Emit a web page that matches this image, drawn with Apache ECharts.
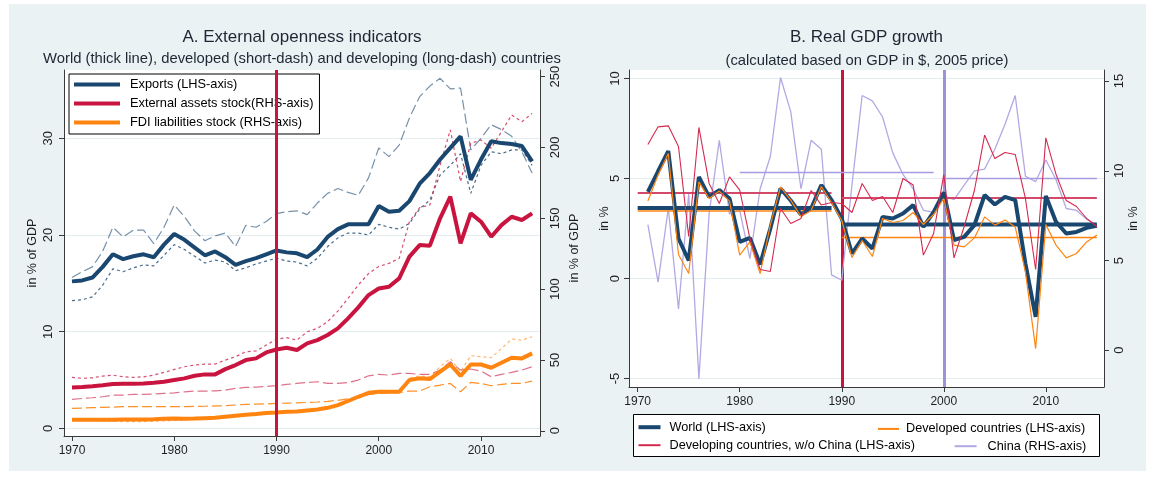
<!DOCTYPE html>
<html>
<head>
<meta charset="utf-8">
<title>External openness and real GDP growth</title>
<script src="https://cdn.jsdelivr.net/npm/echarts@6/dist/echarts.min.js"></script>
<style>
  html, body { margin: 0; padding: 0; background: #fff; }
  #chart { width: 1153px; height: 480px; }
</style>
</head>
<body>
<div id="chart"></div>
<script>
// ---- panel A: openness indicators, 1970-2015 (exports LHS, stocks RHS) ----
const yearsA = [1970, 1971, 1972, 1973, 1974, 1975, 1976, 1977, 1978, 1979,
                1980, 1981, 1982, 1983, 1984, 1985, 1986, 1987, 1988, 1989,
                1990, 1991, 1992, 1993, 1994, 1995, 1996, 1997, 1998, 1999,
                2000, 2001, 2002, 2003, 2004, 2005, 2006, 2007, 2008, 2009,
                2010, 2011, 2012, 2013, 2014, 2015];

const exportsWorld = [15.2, 15.3, 15.6, 16.7, 18.0, 17.5, 17.8, 18.0, 17.7, 19.0,
                      20.1, 19.5, 18.7, 17.9, 18.3, 17.7, 16.9, 17.3, 17.6, 18.0,
                      18.4, 18.2, 18.1, 17.7, 18.5, 19.8, 20.6, 21.1, 21.1, 21.1,
                      23.0, 22.4, 22.5, 23.5, 25.3, 26.4, 27.8, 29.0, 30.2, 25.7,
                      27.8, 29.7, 29.5, 29.4, 29.2, 27.6];
const exportsDeveloped = [13.2, 13.3, 13.6, 14.8, 16.5, 16.2, 16.6, 16.9, 16.8, 17.9,
                          19.0, 18.5, 17.8, 17.1, 17.4, 17.2, 16.3, 16.6, 17.0, 17.3,
                          17.6, 17.3, 17.2, 16.8, 17.6, 18.8, 19.7, 20.2, 20.2, 20.0,
                          21.1, 20.8, 20.6, 21.2, 22.7, 23.6, 26.2, 27.2, 28.4, 24.3,
                          27.2, 28.6, 28.4, 28.8, 28.8, 27.2];
const exportsDeveloping = [15.6, 16.2, 16.7, 18.3, 20.8, 19.8, 20.5, 20.5, 19.1, 20.8,
                           23.1, 21.9, 20.4, 19.4, 19.9, 20.2, 18.8, 21.0, 20.8, 21.4,
                           22.2, 22.4, 22.5, 22.1, 23.3, 24.3, 24.8, 24.4, 24.1, 25.9,
                           29.0, 28.1, 29.3, 32.1, 34.3, 35.4, 36.2, 35.1, 35.2, 28.8,
                           30.0, 31.4, 30.9, 30.2, 28.6, 26.4];

const assetsWorld = [30.6, 30.9, 31.5, 32.2, 33.0, 33.2, 33.2, 33.3, 33.9, 34.6,
                     35.8, 37.0, 38.8, 39.8, 39.8, 43.5, 46.4, 49.9, 51.1, 55.3,
                     57.4, 58.6, 57.0, 61.7, 64.0, 67.6, 72.3, 79.3, 87.1, 95.8,
                     100.4, 101.7, 107.6, 122.9, 131.1, 130.7, 150.0, 165.3, 132.3, 153.5,
                     147.6, 137.0, 145.2, 151.1, 148.8, 153.5];
const assetsDeveloped = [37.7, 37.0, 37.4, 38.6, 39.3, 38.1, 37.7, 38.1, 39.3, 41.2,
                         43.3, 45.2, 46.4, 47.1, 47.1, 49.9, 52.3, 55.8, 56.3, 60.5,
                         64.7, 65.7, 64.0, 69.9, 72.3, 77.0, 84.5, 93.5, 102.9, 111.0,
                         116.0, 118.2, 121.7, 147.6, 157.5, 159.4, 187.6, 212.4, 175.9, 202.9,
                         205.3, 199.4, 211.2, 222.9, 218.2, 224.1];
const assetsDeveloping = [22.1, 22.8, 23.3, 24.0, 25.2, 25.2, 25.7, 25.7, 25.9, 26.4,
                          26.8, 27.5, 28.0, 28.0, 28.2, 28.7, 29.9, 30.6, 30.8, 31.3,
                          31.8, 32.7, 33.4, 34.1, 34.6, 33.4, 33.4, 34.1, 35.8, 38.8,
                          39.8, 39.3, 40.5, 40.5, 39.8, 39.8, 42.8, 48.7, 42.8, 43.6,
                          42.1, 38.1, 39.8, 41.2, 42.8, 45.2];

const fdiWorld = [7.8, 7.8, 7.8, 7.8, 7.8, 7.9, 7.9, 8.0, 8.1, 8.4,
                  8.7, 8.5, 8.6, 8.9, 9.2, 9.9, 10.6, 11.3, 11.8, 12.5,
                  12.9, 13.4, 13.6, 14.3, 15.0, 16.2, 18.1, 21.0, 24.0, 26.8,
                  27.5, 27.5, 27.5, 35.8, 37.0, 36.5, 41.7, 46.8, 38.8, 46.8,
                  46.8, 44.5, 48.0, 51.6, 51.1, 54.6];
const fdiDeveloped = [7.8, 7.5, 7.2, 7.0, 6.8, 6.5, 6.4, 6.5, 6.7, 7.0,
                      7.3, 7.6, 8.0, 8.4, 8.9, 9.4, 10.2, 11.0, 11.6, 12.3,
                      12.8, 13.3, 13.5, 14.2, 15.0, 16.3, 18.3, 21.3, 24.5, 27.5,
                      28.2, 28.0, 28.2, 37.0, 38.8, 38.1, 45.2, 51.1, 41.7, 53.0,
                      52.3, 51.6, 58.1, 64.7, 64.0, 66.4];
const fdiDeveloping = [15.8, 16.0, 16.3, 16.5, 16.7, 17.0, 17.0, 17.0, 17.0, 17.0,
                       17.0, 17.0, 17.2, 17.3, 17.5, 17.7, 18.2, 18.6, 18.8, 19.0,
                       19.3, 19.5, 19.7, 20.0, 20.3, 20.8, 21.5, 22.5, 24.0, 25.5,
                       26.5, 26.8, 27.0, 28.0, 28.0, 31.1, 32.2, 33.4, 27.5, 34.1,
                       33.4, 31.8, 32.7, 33.4, 33.4, 35.1];

// ---- panel B: real GDP growth, 1971-2015 (China on RHS) ----
const yearsB = [1971, 1972, 1973, 1974, 1975, 1976, 1977, 1978, 1979,
                1980, 1981, 1982, 1983, 1984, 1985, 1986, 1987, 1988, 1989,
                1990, 1991, 1992, 1993, 1994, 1995, 1996, 1997, 1998, 1999,
                2000, 2001, 2002, 2003, 2004, 2005, 2006, 2007, 2008, 2009,
                2010, 2011, 2012, 2013, 2014, 2015];

const growthWorld = [4.33, 5.36, 6.37, 2.0, 0.9, 5.08, 4.08, 4.42, 4.0,
                     1.83, 2.03, 0.7, 2.5, 4.5, 3.9, 3.2, 3.5, 4.67, 3.92,
                     3.0, 1.25, 2.0, 1.5, 3.08, 3.0, 3.25, 3.67, 2.58, 3.32,
                     4.3, 1.92, 2.08, 2.67, 4.17, 3.7, 4.08, 3.92, 0.75, -1.92,
                     4.13, 2.83, 2.25, 2.33, 2.53, 2.63];
const growthDeveloped = [3.87, 5.17, 6.25, 1.2, 0.25, 4.83, 4.0, 4.37, 3.87,
                         1.17, 1.83, 0.25, 2.67, 4.58, 3.92, 3.1, 3.4, 4.6, 3.8,
                         2.9, 1.05, 1.9, 1.1, 3.0, 2.8, 2.9, 3.3, 2.7, 3.2,
                         4.0, 1.67, 1.58, 2.03, 3.08, 2.67, 2.92, 2.58, 0.33, -3.5,
                         2.7, 1.67, 1.03, 1.25, 1.83, 2.17];
const growthDeveloping = [6.7, 7.58, 7.63, 6.6, 2.1, 7.55, 4.75, 3.75, 5.08,
                          4.42, 2.0, 0.45, 0.35, 3.5, 2.75, 3.0, 4.4, 3.67, 3.8,
                          3.75, 3.3, 4.75, 3.9, 4.1, 3.3, 5.0, 4.67, 1.17, 2.25,
                          5.2, 1.03, 2.6, 4.4, 7.17, 6.0, 6.3, 6.2, 4.0, 0.45,
                          7.03, 5.2, 3.9, 3.6, 3.0, 2.6];
const growthChina = [7.0, 3.8, 7.9, 2.3, 8.7, -1.6, 7.6, 11.7, 7.6,
                     7.8, 5.1, 9.0, 10.8, 15.2, 13.3, 9.0, 11.7, 11.2, 4.2,
                     3.9, 9.2, 14.2, 13.9, 13.0, 11.0, 9.8, 9.0, 7.8, 7.7,
                     8.6, 8.4, 9.2, 10.0, 10.1, 11.2, 12.6, 14.2, 9.7, 9.4,
                     10.6, 9.5, 7.9, 7.8, 7.3, 7.0];

// period averages (start year, end year) and their values
const periods = [[1970, 1989], [1990, 2015]];
const avgWorld = [3.53, 2.7];
const avgDeveloped = [3.37, 2.05];
const avgDeveloping = [4.28, 4.03];
const periodsChina = [[1980, 1999], [2000, 2015]];
const avgChina = [9.9, 9.57];

const breakYears = [1990];
const chinaBreakYears = [2000];

// tick labels
const decadeTicks = [1970, 1980, 1990, 2000, 2010];
const ticksA_left = [0, 10, 20, 30];
const ticksA_right = [0, 50, 100, 150, 200, 250];
const ticksB_left = [-5, 0, 5, 10];
const ticksB_right = [0, 5, 10, 15];

// ---- styling ----
const NAVY = '#1a476f', CRIMSON = '#c8143f', ORANGE = '#ff8410';
const RED_THIN = '#d42a50', LAVENDER = '#b3a8e4';
const SHORT = [3, 3], LONG = [10, 4];
const AXIS = '#3a3a3a', TEXT = '#1f1f1f';

const pairs = (xs, ys) => xs.map((x, i) => [x, ys[i]]);

function line(name, xi, yi, data, color, width, dash, opacity, z) {
  return {
    name: name, type: 'line', xAxisIndex: xi, yAxisIndex: yi,
    data: data, symbol: 'none', showSymbol: false, color: color,
    lineStyle: { color: color, width: width, type: dash || 'solid', opacity: opacity == null ? 1 : opacity },
    z: z || 2, silent: true, animation: false
  };
}

// one flat segment per period
function avgSeries(label, yi, periodList, values, color, width, z) {
  return periodList.map((p, i) =>
    line(label + ' ' + i, 1, yi, [[p[0], values[i]], [p[1], values[i]]], color, width, 'solid', 1, z));
}

function vline(xi, yi, yearsList, color, width, z) {
  return {
    name: 'break', type: 'line', xAxisIndex: xi, yAxisIndex: yi, data: [],
    silent: true, animation: false,
    markLine: {
      silent: true, symbol: 'none', z: z, animation: false,
      label: { show: false },
      lineStyle: { color: color, width: width, type: 'solid', opacity: 1 },
      emphasis: { disabled: true },
      data: yearsList.map(y => ({ xAxis: y }))
    }
  };
}

function xAxis(gridIndex, min, max, margin) {
  return {
    type: 'value', gridIndex: gridIndex, min: min, max: max, position: 'bottom',
    axisLine: { show: true, onZero: false, lineStyle: { color: AXIS, width: 1 } },
    axisTick: { show: true, length: 5, customValues: decadeTicks, lineStyle: { color: AXIS } },
    axisLabel: { customValues: decadeTicks, formatter: v => String(v), margin: margin, fontSize: 12, color: TEXT },
    splitLine: { show: false }
  };
}

function yAxis(gridIndex, position, min, max, ticks, name, nameGap, namePad, margin, showSplit) {
  return {
    type: 'value', gridIndex: gridIndex, position: position, min: min, max: max,
    name: name, nameLocation: 'middle', nameGap: nameGap, nameRotate: 90, nameMoveOverlap: false,
    nameTextStyle: { fontSize: 12.5, color: TEXT, padding: namePad },
    axisLine: { show: true, onZero: false, lineStyle: { color: AXIS, width: 1 } },
    axisTick: { show: true, length: 5, customValues: ticks, lineStyle: { color: AXIS } },
    axisLabel: { customValues: ticks, rotate: 90, margin: margin, fontSize: 13, color: TEXT },
    splitLine: { show: showSplit, lineStyle: { color: '#e3ecee', width: 1 } }
  };
}

function titleItem(text, x, y, size) {
  return {
    text: text, left: x, top: y, textAlign: 'center', padding: 0,
    textStyle: { fontSize: size, fontWeight: 'normal', color: '#1d2733' }
  };
}

function legendItem(name, x, y, w, h, textPad) {
  return {
    data: [name], left: x, top: y, padding: 0, icon: 'rect',
    itemWidth: w, itemHeight: h, selectedMode: false,
    textStyle: { fontSize: 12.7, color: '#000', padding: [0, 0, 0, textPad] }
  };
}

const chart = echarts.init(document.getElementById('chart'), null, { renderer: 'canvas' });

chart.setOption({
  animation: false,
  backgroundColor: '#ffffff',
  textStyle: { fontFamily: '"Liberation Sans", Arial, sans-serif' },
  title: [
    titleItem('A. External openness indicators', 302, 29, 17),
    titleItem('World (thick line), developed (short-dash) and developing (long-dash) countries', 302, 51.4, 14.8),
    titleItem('B. Real GDP growth', 866.5, 29, 17),
    titleItem('(calculated based on GDP in $, 2005 price)', 867, 53, 14.8)
  ],
  graphic: [
    { type: 'rect', shape: { x: 9, y: 4, width: 1137, height: 467 }, style: { fill: '#eaf2f3' }, z: -10, silent: true },
    { type: 'rect', shape: { x: 633.5, y: 414.5, width: 466, height: 42 }, style: { fill: '#fff', stroke: '#000', lineWidth: 1 }, z: 3, silent: true }
  ],
  legend: [
    {
      data: ['Exports (LHS-axis)', 'External assets stock(RHS-axis)', 'FDI liabilities stock (RHS-axis)'],
      orient: 'vertical', left: 69, top: 74, padding: [4, 6, 5, 5],
      itemWidth: 46, itemHeight: 4, itemGap: 6, icon: 'rect', selectedMode: false,
      backgroundColor: '#fff', borderColor: '#000', borderWidth: 1, borderRadius: 0,
      textStyle: { fontSize: 12.8, color: '#000', padding: [0, 0, 0, 5] }
    },
    legendItem('World (LHS-axis)', 638.5, 420.7, 22, 4, 4),
    legendItem('Developed countries (LHS-axis)', 878, 422.4, 21, 2, 2),
    legendItem('Developing countries, w/o China (LHS-axis)', 638.5, 438.7, 22, 2, 4),
    legendItem('China (RHS-axis)', 954.6, 439.7, 22, 2, 6)
  ],
  grid: [
    { left: 64, top: 70, width: 476, height: 366, show: true, backgroundColor: '#fff', borderWidth: 0, containLabel: false, outerBoundsMode: 'none' },
    { left: 629, top: 70, width: 475, height: 317, show: true, backgroundColor: '#fff', borderWidth: 0, containLabel: false, outerBoundsMode: 'none' }
  ],
  xAxis: [
    xAxis(0, 1969.22, 2015.77, 9),
    xAxis(1, 1969.15, 2015.7, 9)
  ],
  yAxis: [
    yAxis(0, 'left', -0.79, 37.06, ticksA_left, 'in % of GDP', 25, [0, 0, 0, 0], 9, true),
    yAxis(0, 'right', -3.7, 254.7, ticksA_right, 'in % of GDP', 28, [0, 0, 0, 10], 8.5, false),
    yAxis(1, 'left', -5.42, 10.42, ticksB_left, 'in %', 18, [0, 0, 0, 20], 7.5, true),
    yAxis(1, 'right', -2.05, 15.62, ticksB_right, 'in %', 23, [0, 0, 0, 20], 9, false)
  ],
  series: [
    // panel A: developed (short dash) and developing (long dash) first, world thick on top
    line('exp-dev', 0, 0, pairs(yearsA, exportsDeveloping), NAVY, 1.2, LONG, 0.6),
    line('exp-ind', 0, 0, pairs(yearsA, exportsDeveloped), NAVY, 1.2, SHORT, 0.8),
    line('ast-dev', 0, 1, pairs(yearsA, assetsDeveloping), CRIMSON, 1.2, LONG, 0.6),
    line('ast-ind', 0, 1, pairs(yearsA, assetsDeveloped), CRIMSON, 1.2, SHORT, 0.75),
    line('fdi-dev', 0, 1, pairs(yearsA, fdiDeveloping), ORANGE, 1.2, LONG, 0.9),
    line('fdi-ind', 0, 1, pairs(yearsA, fdiDeveloped), ORANGE, 1.2, SHORT, 0.6),
    line('Exports (LHS-axis)', 0, 0, pairs(yearsA, exportsWorld), NAVY, 4, 'solid', 1, 3),
    line('External assets stock(RHS-axis)', 0, 1, pairs(yearsA, assetsWorld), CRIMSON, 4, 'solid', 1, 3),
    line('FDI liabilities stock (RHS-axis)', 0, 1, pairs(yearsA, fdiWorld), ORANGE, 4, 'solid', 1, 3),
    vline(0, 0, breakYears, CRIMSON, 3, 6),

    // panel B
    vline(1, 2, breakYears, CRIMSON, 3, 1),
    vline(1, 3, chinaBreakYears, '#9d92da', 3, 1),
    line('China (RHS-axis)', 1, 3, pairs(yearsB, growthChina), LAVENDER, 1.3),
    ...avgSeries('avg-china', 3, periodsChina, avgChina, '#a79be2', 1.5, 2),
    ...avgSeries('avg-developing', 2, periods, avgDeveloping, '#d4496a', 2, 2),
    ...avgSeries('avg-developed', 2, periods, avgDeveloped, ORANGE, 1.5, 2),
    ...avgSeries('avg-world', 2, periods, avgWorld, NAVY, 4, 2),
    line('World (LHS-axis)', 1, 2, pairs(yearsB, growthWorld), NAVY, 4, 'solid', 1, 3),
    line('Developed countries (LHS-axis)', 1, 2, pairs(yearsB, growthDeveloped), ORANGE, 1.2, 'solid', 1, 3),
    line('Developing countries, w/o China (LHS-axis)', 1, 2, pairs(yearsB, growthDeveloping), RED_THIN, 1.1, 'solid', 1, 3)
  ]
});
</script>
</body>
</html>
